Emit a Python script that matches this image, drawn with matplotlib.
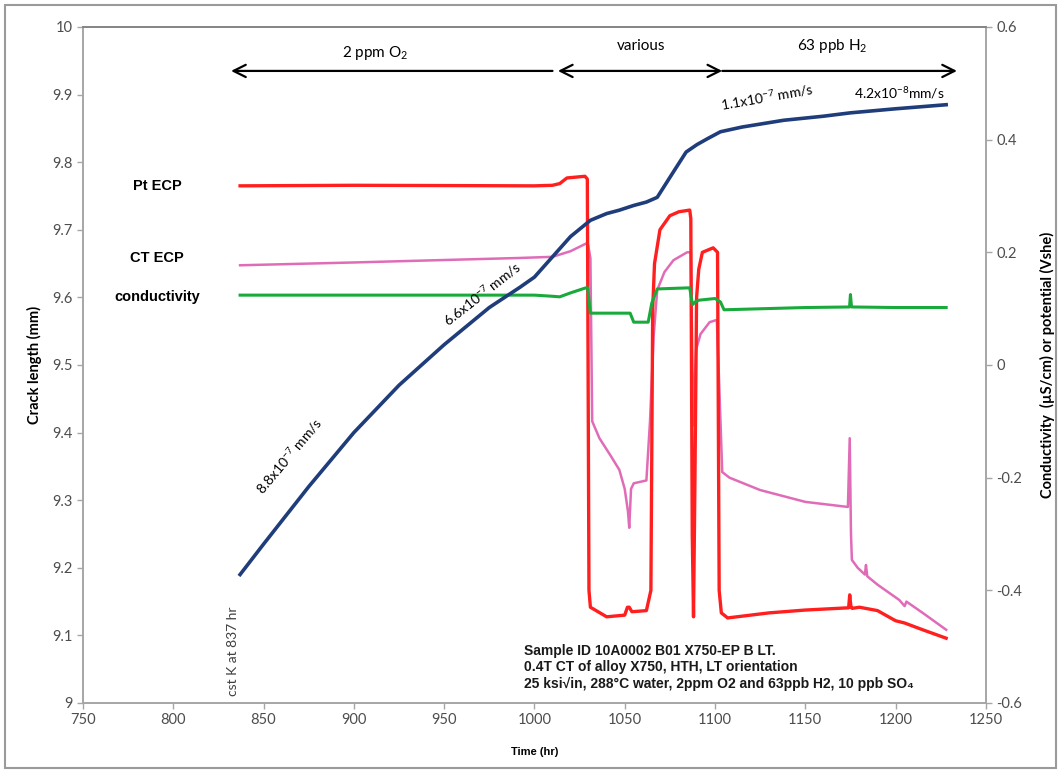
import matplotlib.pyplot as plt
import numpy as np

# crack length (mm), left axis
t_crack = [837, 850, 875, 900, 925, 950, 975, 992, 1000, 1010, 1020, 1031, 1040, 1047,
           1055, 1062, 1068, 1073, 1078, 1084, 1090, 1096, 1103, 1115, 1138, 1160, 1175,
           1200, 1228]
crack = [9.19, 9.235, 9.32, 9.40, 9.47, 9.53, 9.585, 9.615, 9.63, 9.66, 9.69, 9.714,
         9.724, 9.729, 9.736, 9.741, 9.748, 9.769, 9.79, 9.815, 9.826, 9.835, 9.845,
         9.852, 9.862, 9.868, 9.873, 9.879, 9.885]

# Pt ECP (V she), right axis
t_pt = [837, 900, 1000, 1010, 1014, 1018, 1028, 1029.3, 1030.2, 1031, 1040, 1050,
        1051.5, 1052.5, 1054, 1062, 1064.5, 1065.5, 1066.5, 1069.5, 1075, 1080, 1086,
        1086.6, 1087.4, 1088.1, 1088.9, 1089.8, 1091, 1093, 1099, 1101.4, 1102.3, 1103.5,
        1107, 1130, 1150, 1174, 1174.6, 1175.3, 1176, 1180, 1190, 1200, 1205, 1215, 1228]
pt = [0.318, 0.319, 0.318, 0.319, 0.322, 0.332, 0.335, 0.33, -0.40, -0.43, -0.447,
      -0.444, -0.43, -0.43, -0.438, -0.436, -0.40, 0.10, 0.18, 0.24, 0.265, 0.272,
      0.275, 0.26, -0.30, -0.447, -0.20, 0.12, 0.17, 0.20, 0.208, 0.20, -0.40, -0.44,
      -0.449, -0.44, -0.435, -0.431, -0.408, -0.43, -0.432, -0.43, -0.436, -0.454,
      -0.458, -0.47, -0.485]

# CT ECP (V she), right axis
t_ct = [837, 900, 992, 1010, 1020, 1029.5, 1031, 1032, 1036, 1042, 1047, 1050, 1051.8,
        1052.5, 1053.5, 1055, 1062, 1064, 1066, 1068, 1072, 1077, 1084.5, 1086.6, 1087.3,
        1088, 1089.5, 1092, 1097, 1101, 1102.5, 1104, 1108, 1125, 1150, 1173.6, 1174.6,
        1175.3, 1175.8, 1179, 1183, 1183.6, 1184.3, 1190, 1202, 1205, 1206, 1215, 1228]
ct = [0.177, 0.182, 0.19, 0.192, 0.202, 0.217, 0.19, -0.10, -0.13, -0.16, -0.186,
      -0.22, -0.26, -0.289, -0.22, -0.21, -0.205, -0.10, 0.05, 0.133, 0.165, 0.186,
      0.20, 0.20, 0.05, -0.107, 0.027, 0.055, 0.076, 0.08, -0.05, -0.19, -0.20, -0.222,
      -0.243, -0.252, -0.13, -0.30, -0.346, -0.36, -0.372, -0.355, -0.375, -0.39,
      -0.417, -0.428, -0.42, -0.44, -0.47]

# conductivity (uS/cm), right axis
t_cond = [837, 900, 1000, 1010, 1014, 1020, 1028.5, 1029.5, 1031, 1053, 1055, 1063, 1065,
          1068, 1086, 1087.5, 1089, 1091, 1100, 1103, 1105, 1150, 1174.5, 1175, 1175.6,
          1200, 1228]
cond = [0.124, 0.124, 0.124, 0.122, 0.121, 0.128, 0.137, 0.137, 0.092, 0.092, 0.076,
        0.076, 0.11, 0.135, 0.137, 0.107, 0.112, 0.115, 0.118, 0.112, 0.098, 0.102,
        0.103, 0.125, 0.103, 0.102, 0.102]

plt.rcParams['font.family'] = ['Lato', 'DejaVu Sans']
plt.rcParams['mathtext.fontset'] = 'custom'
plt.rcParams['mathtext.rm'] = 'Lato'
plt.rcParams['mathtext.it'] = 'Lato:italic'
plt.rcParams['mathtext.bf'] = 'Lato:bold'
grey = '#a6a6a6'

fig = plt.figure(figsize=(10.61, 7.71), dpi=100)
ax1 = fig.add_axes([0.0782, 0.0882, 0.851, 0.8768])
ax2 = ax1.twinx()

ax1.plot(t_crack, crack, color='#1f3d7a', lw=2.6, zorder=3)
ax2.plot(t_pt, pt, color='#ff1f1f', lw=2.4, zorder=2)
ax2.plot(t_ct, ct, color='#e06cb8', lw=1.8, zorder=1)
ax2.plot(t_cond, cond, color='#1aaa3c', lw=2.2, zorder=2)

ax1.set_zorder(ax2.get_zorder() + 1)
ax1.patch.set_visible(False)

ax1.set_xlim(750, 1250)
ax1.set_ylim(9, 10)
ax2.set_ylim(-0.6, 0.6)
ax1.set_xticks(np.arange(750, 1251, 50))
ax1.set_yticks(np.arange(9, 10.01, 0.1))
ax1.set_yticklabels(['9', '9.1', '9.2', '9.3', '9.4', '9.5', '9.6', '9.7', '9.8', '9.9', '10'])
ax2.set_yticks(np.arange(-0.6, 0.61, 0.2))
ax2.set_yticklabels(['-0.6', '-0.4', '-0.2', '0', '0.2', '0.4', '0.6'])

for ax in (ax1, ax2):
    for s in ax.spines.values():
        s.set_color(grey)
        s.set_linewidth(1.2)
    ax.tick_params(colors=grey, labelcolor='#4d4d4d', labelsize=10.5, length=4, width=1)
ax1.spines['top'].set_color('#7f7f7f')

ax1.set_xlabel('Time (hr)', fontsize=8, fontweight='bold', labelpad=14,
               family=['Liberation Sans'])
ax1.set_ylabel('Crack length (mm)', fontsize=10.5, fontweight='bold', labelpad=2)
ax1.yaxis.set_label_coords(-0.045, 0.5)
ax2.set_ylabel('Conductivity  (\u00b5S/cm) or potential (Vshe)', fontsize=10.5,
               fontweight='bold')
ax2.yaxis.set_label_coords(1.06, 0.5)

# condition arrows
ay = 9.935
ax1.annotate('', xy=(832, ay), xytext=(1010, ay),
             arrowprops=dict(arrowstyle='->', color='black', lw=1.6, mutation_scale=22,
                             shrinkA=0, shrinkB=0))
ax1.annotate('', xy=(1013, ay), xytext=(1104, ay),
             arrowprops=dict(arrowstyle='<->', color='black', lw=1.6, mutation_scale=22,
                             shrinkA=0, shrinkB=0))
ax1.annotate('', xy=(1234, ay), xytext=(1104, ay),
             arrowprops=dict(arrowstyle='->', color='black', lw=1.6, mutation_scale=22,
                             shrinkA=0, shrinkB=0))
ax1.text(912, 9.962, '2 ppm O$_2$', ha='center', va='center', fontsize=11)
ax1.text(1059, 9.972, 'various', ha='center', va='center', fontsize=11)
ax1.text(1165, 9.972, '63 ppb H$_2$', ha='center', va='center', fontsize=11)

# series labels
lab = dict(fontsize=10.5, fontweight='bold', ha='center', va='center',
           family=['Liberation Sans'])
ax1.text(791, 9.765, 'Pt ECP', **lab)
ax1.text(791, 9.658, 'CT ECP', **lab)
ax1.text(791, 9.6, 'conductivity', **lab)

# rates
ax1.text(864, 9.365, '8.8x10$^{-7}$ mm/s', rotation=50, ha='center', va='center', fontsize=10)
ax1.text(971, 9.605, '6.6x10$^{-7}$ mm/s', rotation=38, ha='center', va='center', fontsize=10)
ax1.text(1129, 9.897, '1.1x10$^{-7}$ mm/s', rotation=10, ha='center', va='center', fontsize=10)
ax1.text(1202, 9.903, '4.2x10$^{-8}$mm/s', ha='center', va='center', fontsize=10)
ax1.text(833, 9.01, 'cst K at 837 hr', rotation=90, ha='center', va='bottom', fontsize=10,
         color='#404040')

ax1.text(994, 9.088, 'Sample ID 10A0002 B01 X750-EP B LT.\n'
         '0.4T CT of alloy X750, HTH, LT orientation\n'
         '25 ksi\u221ain, 288\u00b0C water, 2ppm O2 and 63ppb H2, 10 ppb SO\u2084',
         ha='left', va='top', fontsize=10, fontweight='bold', linespacing=1.25,
         family=['Liberation Sans', 'DejaVu Sans'], color='#1a1a1a')

fig.patches.append(plt.Rectangle((0.005, 0.004), 0.99, 0.99, transform=fig.transFigure,
                                 fill=False, edgecolor='#9a9a9a', lw=1.5))

fig.savefig('out.png', dpi=100, facecolor='white')
